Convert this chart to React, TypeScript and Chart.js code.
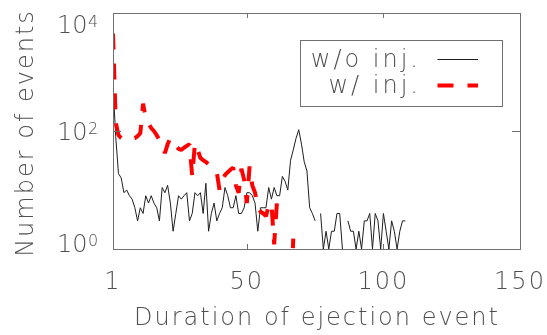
import { useEffect, useRef } from 'react';
import { Chart, registerables } from 'chart.js';

Chart.register(...registerables);

// Events per duration bin, bins 1, 2, 3, ... (0 = empty bin)
const countsWithoutInjection = [
  600, 80, 19, 16, 9, 10, 8, 7, 5, 3,
  5, 4, 8, 6, 8, 6, 5, 3, 11, 9,
  12, 6, 2, 4, 8, 7, 8, 9, 3, 4,
  9, 8, 9, 4, 13, 2, 4, 6, 3, 4,
  5, 11, 8, 5, 5, 8, 4, 4, 5, 9,
  9, 8, 6, 2, 5, 5, 5, 11, 7, 11,
  8, 8, 17, 14, 10, 32, 48, 75, 105, 60,
  30, 21, 5, 4, 3, 0, 4, 1, 2, 1,
  2, 2, 4, 4, 1, 0, 3, 2, 2, 1,
  2, 1, 3, 3, 4, 1, 4, 3, 1, 4,
  2, 1, 3, 2, 1, 2, 3, 3,
];

// Normalised counts with injection (can drop below one event; 0 = empty bin)
const countsWithInjection = [
  4500, 140, 85, 76, 72, 70, 72, 74, 76, 82,
  92, 290, 165, 135, 112, 100, 85, 70, 58, 42,
  60, 76, 65, 55, 50, 48, 52, 56, 60, 17,
  62, 48, 35, 32, 30, 27, 24, 22, 20, 10,
  14, 18, 20, 22, 24, 12, 9, 23, 15, 6,
  25, 12, 9, 5, 4.3, 4, 3.6, 5.5, 6, 1.2,
  6, 5.5, 5.8, 0, 0, 0.1, 1.5,
];

const seriesLabels = ['w/o inj.', 'w/ inj.'];
const xTickValues = [1, 50, 100, 150];
const yTickValues = [1, 100, 10000];
const xAxisTitle = 'Duration of ejection event';
const yAxisTitle = 'Number of events';

const FONT = '"DejaVu Sans", sans-serif';
const WEIGHT = 200;
const TEXT = '#505050';
const FRAME = '#707070';

// empty bins have no place on a log axis: they break the line
const toPoints = (counts: number[]) =>
  counts.map((c, i) => ({ x: i + 1, y: c > 0 ? c : null }));

const axesAndLegend = {
  id: 'axesAndLegend',
  beforeDraw(chart: any) {
    chart.ctx.letterSpacing = '2px';
  },
  afterDraw(chart: any) {
    const { ctx, chartArea: a } = chart;
    const xs = chart.scales.x;
    const ys = chart.scales.y;
    ctx.save();

    // plot frame with inward ticks on all four sides
    ctx.strokeStyle = FRAME;
    ctx.lineWidth = 1;
    ctx.setLineDash([]);
    ctx.strokeRect(a.left + 0.5, a.top + 0.5, a.right - a.left, a.bottom - a.top);
    ctx.beginPath();
    for (const v of xTickValues) {
      const px = Math.round(xs.getPixelForValue(v)) + 0.5;
      ctx.moveTo(px, a.bottom);
      ctx.lineTo(px, a.bottom - 5);
      ctx.moveTo(px, a.top);
      ctx.lineTo(px, a.top + 5);
    }
    for (const v of yTickValues) {
      const py = Math.round(ys.getPixelForValue(v)) + 0.5;
      ctx.moveTo(a.left, py);
      ctx.lineTo(a.left + 8, py);
      ctx.moveTo(a.right, py);
      ctx.lineTo(a.right - 8, py);
    }
    ctx.stroke();

    // y tick labels as powers of ten, kept inside the frame's span
    ctx.fillStyle = TEXT;
    ctx.textBaseline = 'alphabetic';
    ctx.textAlign = 'left';
    ctx.letterSpacing = '0px';
    for (const v of yTickValues) {
      const mid = Math.min(Math.max(ys.getPixelForValue(v), a.top + 11), a.bottom - 6);
      const top = mid - 9;
      ctx.font = `${WEIGHT} 24px ${FONT}`;
      ctx.fillText('10', 57, top + 17.5);
      ctx.font = `${WEIGHT} 16px ${FONT}`;
      ctx.fillText(String(Math.round(Math.log10(v))), 88, top + 11.7);
    }

    // axis titles
    ctx.letterSpacing = '2px';
    ctx.font = `${WEIGHT} 24px ${FONT}`;
    ctx.textAlign = 'center';
    ctx.fillText(xAxisTitle, (a.left + a.right) / 2 + 0.5, 325);
    ctx.save();
    ctx.translate(33, (a.top + a.bottom) / 2 + 2);
    ctx.rotate(-Math.PI / 2);
    ctx.fillText(yAxisTitle, 0, 0);
    ctx.restore();

    // legend: right-aligned labels followed by line samples
    ctx.strokeStyle = FRAME;
    ctx.lineWidth = 1;
    ctx.strokeRect(300.5, 40.5, 202, 66);
    ctx.letterSpacing = '3px';
    ctx.textAlign = 'right';
    chart.data.datasets.forEach((ds: any, i: number) => {
      const baseline = 67 + i * 26;
      const lineY = baseline - 7.5;
      ctx.fillStyle = TEXT;
      ctx.fillText(ds.label, 421, baseline);
      ctx.strokeStyle = ds.borderColor;
      ctx.lineWidth = ds.borderWidth;
      ctx.setLineDash(ds.borderDash || []);
      ctx.lineCap = 'butt';
      ctx.beginPath();
      ctx.moveTo(437.5, lineY);
      ctx.lineTo(478, lineY);
      ctx.stroke();
    });
    ctx.restore();
  },
};

export default function App() {
  const canvasRef = useRef<HTMLCanvasElement>(null);

  useEffect(() => {
    const canvas = canvasRef.current;
    if (!canvas) return;
    const tickFont = { family: FONT, size: 24, weight: WEIGHT as any };
    const chart = new Chart(canvas, {
      type: 'line',
      data: {
        datasets: [
          {
            label: seriesLabels[0],
            data: toPoints(countsWithoutInjection) as any,
            borderColor: '#1e1e1e',
            borderWidth: 1,
            pointRadius: 0,
            order: 2,
          },
          {
            label: seriesLabels[1],
            data: toPoints(countsWithInjection) as any,
            borderColor: '#ff0000',
            borderWidth: 4,
            borderDash: [16, 14],
            borderJoinStyle: 'bevel',
            pointRadius: 0,
            order: 1,
          },
        ],
      },
      options: {
        animation: false,
        responsive: false,
        devicePixelRatio: 1,
        events: [],
        layout: { padding: { left: 0, top: 13, right: 27, bottom: 0 } },
        plugins: { legend: { display: false }, tooltip: { enabled: false } },
        scales: {
          x: {
            type: 'linear',
            min: 1,
            max: 150,
            afterBuildTicks: (s: any) => {
              s.ticks = xTickValues.map((value) => ({ value }));
            },
            afterFit: (s: any) => {
              // labels sit in the page margins; keep the full plot width
              s.height = 86;
              s.paddingLeft = 0;
              s.paddingRight = 0;
            },
            grid: { display: false, drawTicks: false },
            border: { display: false },
            ticks: {
              padding: 19,
              color: TEXT,
              font: tickFont,
              maxRotation: 0,
              autoSkip: false,
              callback: (v: any) => String(v),
            },
          },
          y: {
            type: 'logarithmic',
            min: 1,
            max: 10000,
            afterFit: (s: any) => {
              s.width = 113;
              s.paddingTop = 0;
              s.paddingBottom = 0;
            },
            grid: { display: false, drawTicks: false },
            border: { display: false },
            ticks: { display: false },
          },
        },
      },
      plugins: [axesAndLegend],
    });
    return () => chart.destroy();
  }, []);

  return (
    <div style={{ position: 'absolute', left: 0, top: 0, width: 547, height: 335 }}>
      <canvas ref={canvasRef} width={547} height={335} />
    </div>
  );
}
